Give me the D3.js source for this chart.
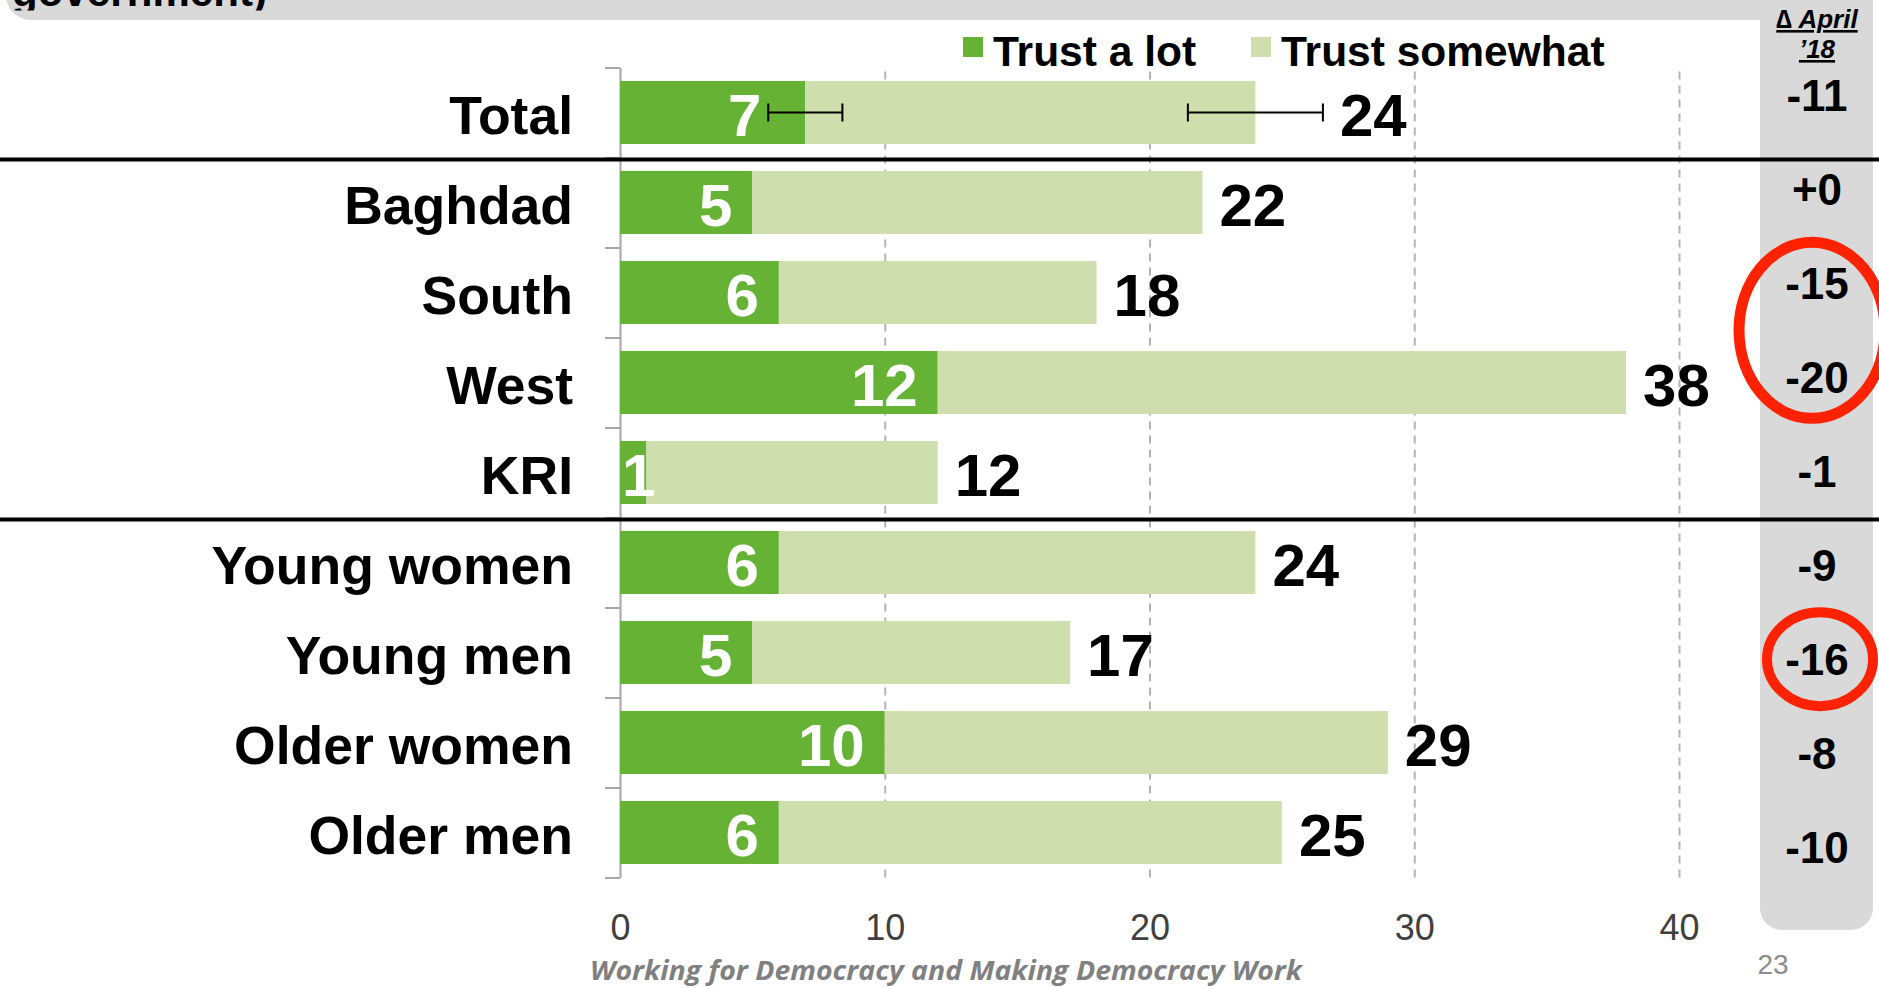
<!DOCTYPE html>
<html>
<head>
<meta charset="utf-8">
<script src="https://cdn.jsdelivr.net/npm/d3@7"></script>
<style>
  body { margin: 0; background: #fff; }
  svg text { font-family: "Liberation Sans", Arial, sans-serif; }
  .cat { font-size: 53.5px; font-weight: bold; fill: #000; text-anchor: end; }
  .val { font-size: 60px; font-weight: bold; }
  .legend text { font-size: 42.5px; font-weight: bold; fill: #000; }
  .grid line { stroke: #b3b3b3; stroke-width: 2px; stroke-dasharray: 8,6; }
  .grid path { display: none; }
  .xaxis path, .xaxis line { display: none; }
  .xaxis text { font-size: 36px; fill: #404040; font-family: "Liberation Sans", Arial, sans-serif; }
  .yaxis path, .yaxis line { stroke: #a6a6a6; stroke-width: 2px; }
  .delta { font-size: 44px; font-weight: bold; text-anchor: middle; }
  .dhead { font-size: 26px; font-weight: bold; font-style: italic; text-anchor: middle; text-decoration: underline; }
</style>
</head>
<body>
<script>
// data
var categories = ["Total", "Baghdad", "South", "West", "KRI", "Young women", "Young men", "Older women", "Older men"];
var trustALot = [7, 5, 6, 12, 1, 6, 5, 10, 6];
var trustSomewhat = [17, 17, 12, 26, 11, 18, 12, 19, 19];
var errorALot = [1.4, null, null, null, null, null, null, null, null];
var errorTotal = [2.55, null, null, null, null, null, null, null, null];
var changeApril18 = [-11, 0, -15, -20, -1, -9, -16, -8, -10];
var xTicks = [0, 10, 20, 30, 40];
var seriesNames = ["Trust a lot", "Trust somewhat"];
var groupStarts = ["Baghdad", "Young women"];
var circled = [["South", "West"], ["Young men"]];

var W = 1879, H = 988;
var darkGreen = "#66b235", lightGreen = "#cfdead", panelGray = "#d9d9d9";

var rows = categories.map(function(c, i) {
  return { cat: c, lot: trustALot[i], somewhat: trustSomewhat[i],
           errLot: errorALot[i], errTotal: errorTotal[i], change: changeApril18[i] };
});

var svg = d3.select("body").append("svg")
  .attr("width", W).attr("height", H);

// gray frame: header strip + delta column
svg.append("rect").attr("x", 6).attr("y", -40).attr("width", 1867).attr("height", 60)
  .attr("rx", 25).attr("fill", panelGray);
svg.append("rect").attr("x", 1760).attr("y", -40).attr("width", 113).attr("height", 970)
  .attr("rx", 22).attr("fill", panelGray);

// clipped tail of the slide title
svg.append("clipPath").attr("id", "titleClip")
  .append("rect").attr("x", 0).attr("y", 0).attr("width", 400).attr("height", 10.5);
svg.append("text")
  .attr("x", 12).attr("y", 6)
  .attr("clip-path", "url(#titleClip)")
  .style("font-size", "42px").style("font-weight", "bold")
  .attr("textLength", 255)
  .text("government)");

var plotTop = 67.5, plotBottom = 877.5;
var x = d3.scaleLinear().domain([0, 40]).range([620, 1679]);
var y = d3.scaleBand().domain(categories).range([plotTop, plotBottom])
  .paddingInner(0.3).paddingOuter(0.15);

// dashed gridlines
svg.append("g").attr("class", "grid")
  .attr("transform", "translate(0," + plotBottom + ")")
  .call(d3.axisBottom(x).tickValues(xTicks.slice(1)).tickSize(-(plotBottom - plotTop)).tickFormat(""));

// x tick labels
var xa = svg.append("g").attr("class", "xaxis")
  .call(d3.axisBottom(x).tickValues(xTicks).tickSize(0).tickFormat(d3.format("d")));
xa.selectAll("text").attr("y", 940).attr("dy", null);

// left axis with ticks between rows
var yb = d3.scaleLinear().domain([0, categories.length]).range([plotTop, plotBottom]);
svg.append("g").attr("class", "yaxis")
  .attr("transform", "translate(" + x(0) + ",0)")
  .call(d3.axisLeft(yb).ticks(categories.length).tickSize(15).tickSizeOuter(0).tickFormat(""));

// stacked bars
var stack = d3.stack().keys(["lot", "somewhat"]);
var series = stack(rows);
var colors = [darkGreen, lightGreen];
svg.append("g").selectAll("g")
  .data(series).enter().append("g")
  .attr("fill", function(d, i) { return colors[i]; })
  .selectAll("rect")
  .data(function(d) { return d; })
  .enter().append("rect")
  .attr("x", function(d) { return x(d[0]); })
  .attr("y", function(d) { return y(d.data.cat); })
  .attr("width", function(d) { return x(d[1]) - x(d[0]); })
  .attr("height", y.bandwidth());

// group separators
groupStarts.forEach(function(c) {
  var yy = y(c) - y.step() * y.paddingInner() / 2 + 2;
  svg.append("line").attr("x1", 0).attr("x2", W).attr("y1", yy).attr("y2", yy)
    .attr("stroke", "#000").attr("stroke-width", 4);
});

// error bars
function errBar(center, e, cy) {
  var g = svg.append("g").attr("stroke", "#000").attr("stroke-width", 2);
  var x1 = x(center - e), x2 = x(center + e);
  g.append("line").attr("x1", x1).attr("x2", x2).attr("y1", cy).attr("y2", cy);
  g.append("line").attr("x1", x1).attr("x2", x1).attr("y1", cy - 9).attr("y2", cy + 9);
  g.append("line").attr("x1", x2).attr("x2", x2).attr("y1", cy - 9).attr("y2", cy + 9);
}
rows.forEach(function(r) {
  var cy = y(r.cat) + y.bandwidth() / 2;
  if (r.errLot) errBar(r.lot, r.errLot, cy);
  if (r.errTotal) errBar(r.lot + r.somewhat, r.errTotal, cy);
});

// value labels
rows.forEach(function(r) {
  var cy = y(r.cat) + y.bandwidth() / 2;
  var right = x(r.lot) - 20;
  if (r.errLot) right = Math.min(right, x(r.lot - r.errLot) - 7);
  var t = svg.append("text").attr("class", "val")
    .attr("x", right).attr("y", cy).attr("dy", "0.39em")
    .attr("fill", "#fff").attr("text-anchor", "end")
    .text(r.lot);
  var w = t.node().getComputedTextLength();
  if (right - w < x(0) + 2) t.attr("text-anchor", "start").attr("x", x(0) + 2);

  var total = r.lot + r.somewhat;
  var lx = x(total);
  if (r.errTotal) lx = Math.max(lx, x(total + r.errTotal));
  svg.append("text").attr("class", "val")
    .attr("x", lx + 17).attr("y", cy).attr("dy", "0.39em")
    .attr("fill", "#000")
    .text(total);
});

// category labels
svg.append("g").selectAll("text")
  .data(rows).enter().append("text")
  .attr("class", "cat")
  .attr("x", 573)
  .attr("y", function(d) { return y(d.cat) + y.bandwidth() / 2; })
  .attr("dy", "0.4em")
  .text(function(d) { return d.cat; });

// legend
var legendX = [963, 1251];
var lg = svg.append("g").attr("class", "legend");
seriesNames.forEach(function(name, i) {
  lg.append("rect").attr("x", legendX[i]).attr("y", 37).attr("width", 20).attr("height", 20)
    .attr("fill", colors[i]);
  lg.append("text").attr("x", legendX[i] + 30).attr("y", 66).text(name);
});

// change column
var cx = 1817;
svg.append("text").attr("class", "dhead").attr("x", cx).attr("y", 28).text("\u2206 April");
svg.append("text").attr("class", "dhead").attr("x", cx).attr("y", 58).text("\u201918");
var dy = d3.scalePoint().domain(categories).range([95.5, 847]);
function fmtChange(v) { return (v >= 0 ? "+" : "-") + Math.abs(v); }
svg.append("g").selectAll("text")
  .data(rows).enter().append("text")
  .attr("class", "delta")
  .attr("x", cx)
  .attr("y", function(d) { return dy(d.cat); })
  .attr("dy", "0.36em")
  .text(function(d) { return fmtChange(d.change); });

// red highlight ellipses
circled.forEach(function(grp) {
  var ys = grp.map(function(c) { return dy(c); });
  var cyy = d3.mean(ys);
  var big = grp.length > 1;
  svg.append("ellipse")
    .attr("cx", big ? 1812 : 1820).attr("cy", cyy)
    .attr("rx", big ? 73 : 53).attr("ry", big ? 88 : 47)
    .attr("fill", "none").attr("stroke", "#ff2200")
    .attr("stroke-width", big ? 11 : 10);
});

// footer
svg.append("text")
  .attr("x", 590).attr("y", 980)
  .attr("textLength", 712).attr("lengthAdjust", "spacingAndGlyphs")
  .style("font-family", "'Open Sans', sans-serif").style("font-style", "italic")
  .style("font-weight", 700).style("font-size", "26px").attr("fill", "#808080")
  .text("Working for Democracy and Making Democracy Work");
svg.append("text")
  .attr("x", 1773).attr("y", 974).attr("text-anchor", "middle")
  .style("font-size", "28px").attr("fill", "#8c8c8c")
  .text("23");
</script>
</body>
</html>
